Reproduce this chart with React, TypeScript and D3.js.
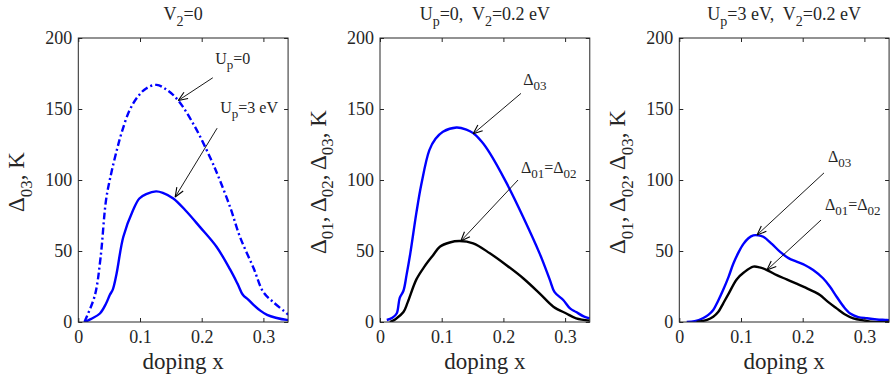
import React, { useEffect, useRef } from 'react';
import * as d3 from 'd3';

// ---- data ----
const xTicks = [0, 0.1, 0.2, 0.3];
const yTicks = [0, 50, 100, 150, 200];

// panel 1: V2 = 0
const p1UpZeroX = [0.01, 0.014, 0.027, 0.036, 0.045, 0.0535, 0.063, 0.07, 0.083, 0.097, 0.11, 0.127, 0.145, 0.162, 0.189, 0.2156, 0.226, 0.246, 0.262, 0.284, 0.3, 0.316, 0.338, 0.34];
const p1UpZeroY = [0, 4, 19, 45, 86, 105, 122, 133, 149, 159, 164.5, 167, 163, 156, 137.5, 114, 103.5, 81, 60, 38, 21, 14, 6, 5];
const p1Up3X = [0.011, 0.02, 0.035, 0.045, 0.051, 0.056, 0.062, 0.073, 0.089, 0.099, 0.11, 0.126, 0.137, 0.154, 0.175, 0.197, 0.224, 0.246, 0.258, 0.267, 0.275, 0.284, 0.295, 0.306, 0.32, 0.338, 0.34];
const p1Up3Y = [0, 2, 6, 13, 19, 23, 34, 60, 79, 87, 90, 92, 91, 87, 78, 67, 53, 37, 27, 19, 16, 12, 8, 5, 3, 1.5, 1.5];

// panel 2: Up = 0, V2 = 0.2 eV
const p2D03X = [0.011, 0.02, 0.027, 0.032, 0.038, 0.043, 0.049, 0.059, 0.067, 0.08, 0.09, 0.102, 0.124, 0.14, 0.151, 0.165, 0.178, 0.205, 0.232, 0.259, 0.275, 0.283, 0.297, 0.308, 0.318, 0.33, 0.34];
const p2D03Y = [1.4, 3, 6, 17, 22, 33, 48, 77, 97, 121, 129, 134, 137, 135.5, 133, 127, 119, 98, 74, 48, 30, 21, 15.5, 9.6, 7, 4, 2.6];
const p2D01X = [0.016, 0.025, 0.038, 0.045, 0.059, 0.072, 0.086, 0.097, 0.113, 0.129, 0.151, 0.178, 0.205, 0.232, 0.259, 0.281, 0.302, 0.318, 0.34];
const p2D01Y = [0, 2, 7, 14, 30, 39, 47, 53, 56, 57, 55.4, 48.4, 40, 30.8, 20, 10.8, 6, 2.6, 1];

// panel 3: Up = 3 eV, V2 = 0.2 eV
const p3D03X = [0.012, 0.025, 0.039, 0.047, 0.055, 0.063, 0.071, 0.08, 0.0875, 0.096, 0.104, 0.112, 0.12, 0.128, 0.136, 0.15, 0.163, 0.177, 0.19, 0.204, 0.217, 0.233, 0.244, 0.255, 0.266, 0.277, 0.29, 0.304, 0.32, 0.336, 0.34];
const p3D03Y = [0, 0.5, 2.8, 5, 8.5, 15, 22.5, 32, 41, 49, 55, 59, 61, 61, 60, 55, 49.5, 45, 42.5, 40, 36.6, 30.8, 25, 17.8, 11, 6, 3.5, 2.6, 1.8, 1.4, 1.2];
const p3D01X = [0.028, 0.045, 0.055, 0.063, 0.071, 0.08, 0.093, 0.105, 0.12, 0.13, 0.142, 0.158, 0.174, 0.19, 0.207, 0.22, 0.228, 0.24, 0.255, 0.268, 0.282, 0.3, 0.315, 0.34];
const p3D01Y = [0, 1.5, 3.7, 7, 13, 20, 30, 35, 39, 38.5, 36.6, 33, 30, 27, 23.7, 21, 19, 14.5, 9.6, 5.5, 2.6, 1, 0, 0];

type Seg = [string, boolean?];

interface Series { xs: number[]; ys: number[]; color: string; dash?: string }
interface Note { text: Seg[]; tx: number; ty: number; x1: number; y1: number; x2: number; y2: number }
interface PanelDef { left: number; title: Seg[]; ylabel: Seg[]; series: Series[]; notes: Note[] }

const delta3Label: Seg[] = [['Δ'], ['03', true], [', K']];
const deltaAllLabel: Seg[] = [['Δ'], ['01', true], [', Δ'], ['02', true], [', Δ'], ['03', true], [', K']];
const d03: Seg[] = [['Δ'], ['03', true]];
const d0102: Seg[] = [['Δ'], ['01', true], ['=Δ'], ['02', true]];

const panels: PanelDef[] = [
  {
    left: 78.3,
    title: [['V'], ['2', true], ['=0']],
    ylabel: delta3Label,
    series: [
      { xs: p1UpZeroX, ys: p1UpZeroY, color: '#0000ff', dash: '7,3,2,3' },
      { xs: p1Up3X, ys: p1Up3Y, color: '#0000ff' },
    ],
    notes: [
      { text: [['U'], ['p', true], ['=0']], tx: 0.222, ty: 182, x1: 0.218, y1: 172, x2: 0.162, y2: 156 },
      { text: [['U'], ['p', true], ['=3 eV']], tx: 0.23, ty: 147, x1: 0.225, y1: 136.5, x2: 0.157, y2: 88 },
    ],
  },
  {
    left: 380,
    title: [['U'], ['p', true], ['=0,  V'], ['2', true], ['=0.2 eV']],
    ylabel: deltaAllLabel,
    series: [
      { xs: p2D03X, ys: p2D03Y, color: '#0000ff' },
      { xs: p2D01X, ys: p2D01Y, color: '#000000' },
    ],
    notes: [
      { text: d03, tx: 0.232, ty: 167, x1: 0.2285, y1: 161, x2: 0.151, y2: 132.5 },
      { text: d0102, tx: 0.2285, ty: 105, x1: 0.2237, y1: 100, x2: 0.131, y2: 57 },
    ],
  },
  {
    left: 679.3,
    title: [['U'], ['p', true], ['=3 eV,  V'], ['2', true], ['=0.2 eV']],
    ylabel: deltaAllLabel,
    series: [
      { xs: p3D03X, ys: p3D03Y, color: '#0000ff' },
      { xs: p3D01X, ys: p3D01Y, color: '#000000' },
    ],
    notes: [
      { text: d03, tx: 0.241, ty: 112.7, x1: 0.2345, y1: 105, x2: 0.126, y2: 61.3 },
      { text: d0102, tx: 0.236, ty: 79, x1: 0.2297, y1: 71.8, x2: 0.142, y2: 36.6 },
    ],
  },
];

const FONT = "'Liberation Serif', 'Times New Roman', serif";
const plotTop = 38;
const plotBottom = 322;
const pxPerUnitX = 617; // pixels per unit of doping

// writes text with subscript pieces as tspans
function richText(sel: any, segs: Seg[], size: number, subSize: number) {
  segs.forEach(([t, sub], i) => {
    const prevSub = i > 0 && segs[i - 1][1];
    let dy = 0;
    if (sub && !prevSub) dy = size * 0.32;
    if (!sub && prevSub) dy = -size * 0.32;
    sel.append('tspan').attr('font-size', sub ? subSize : size).attr('dy', dy).text(t);
  });
}

const App: React.FC = () => {
  const svgRef = useRef<SVGSVGElement | null>(null);

  useEffect(() => {
    if (!svgRef.current) return;
    const svg = d3.select(svgRef.current);
    svg.selectAll('*').remove();

    panels.forEach((p, pi) => {
      const width = 0.34 * pxPerUnitX;
      const x = d3.scaleLinear().domain([0, 0.34]).range([p.left, p.left + width]);
      const y = d3.scaleLinear().domain([0, 200]).range([plotBottom, plotTop]);
      const g = svg.append('g').attr('font-family', FONT);

      const clipId = `clip${pi}`;
      g.append('clipPath')
        .attr('id', clipId)
        .append('rect')
        .attr('x', p.left)
        .attr('y', plotTop)
        .attr('width', width)
        .attr('height', plotBottom - plotTop);

      // curves
      const line = d3
        .line<[number, number]>()
        .x((d) => x(d[0]))
        .y((d) => y(Math.max(0, d[1])))
        .curve(d3.curveCatmullRom.alpha(0.5));

      p.series.forEach((s) => {
        const pts = s.xs.map((v, i) => [v, s.ys[i]] as [number, number]);
        g.append('path')
          .attr('d', line(pts))
          .attr('fill', 'none')
          .attr('stroke', s.color)
          .attr('stroke-width', 2.4)
          .attr('stroke-dasharray', s.dash ?? null)
          .attr('clip-path', `url(#${clipId})`);
      });

      // axes, MATLAB-like inward ticks
      const fmt = (d: d3.NumberValue) => (+d === 0 ? '0' : (+d).toFixed(1));
      const bottom = g
        .append('g')
        .attr('transform', `translate(0,${plotBottom})`)
        .call(d3.axisBottom(x).tickValues(xTicks).tickSize(-4).tickPadding(8).tickFormat(fmt));
      const left = g
        .append('g')
        .attr('transform', `translate(${p.left},0)`)
        .call(d3.axisLeft(y).tickValues(yTicks).tickSize(-4).tickPadding(6));
      const top = g
        .append('g')
        .attr('transform', `translate(0,${plotTop})`)
        .call(d3.axisTop(x).tickValues(xTicks).tickSize(-4).tickFormat(() => ''));
      const right = g
        .append('g')
        .attr('transform', `translate(${p.left + width},0)`)
        .call(d3.axisRight(y).tickValues(yTicks).tickSize(-4).tickFormat(() => ''));
      [bottom, left, top, right].forEach((a) => {
        a.select('.domain').remove();
        a.selectAll('line').attr('stroke', '#262626');
        a.selectAll('text').attr('font-size', 18).attr('font-family', FONT).attr('fill', '#262626');
      });

      g.append('rect')
        .attr('x', p.left)
        .attr('y', plotTop)
        .attr('width', width)
        .attr('height', plotBottom - plotTop)
        .attr('fill', 'none')
        .attr('stroke', '#262626')
        .attr('stroke-width', 1);

      // title
      const title = g
        .append('text')
        .attr('x', p.left + width / 2)
        .attr('y', 20)
        .attr('text-anchor', 'middle')
        .style('white-space', 'pre')
        .attr('fill', '#262626');
      richText(title, p.title, 18, 14);

      // x label
      g.append('text')
        .attr('x', p.left + width / 2)
        .attr('y', 369)
        .attr('text-anchor', 'middle')
        .attr('font-size', 23)
        .attr('fill', '#262626')
        .text('doping x');

      // y label
      const yl = g
        .append('text')
        .attr('transform', `translate(${p.left - 54},${(plotTop + plotBottom) / 2 + 2}) rotate(-90)`)
        .attr('text-anchor', 'middle')
        .style('white-space', 'pre')
        .attr('fill', '#262626');
      richText(yl, p.ylabel, 23, 17);

      // annotations
      p.notes.forEach((n) => {
        const t = g.append('text').attr('x', x(n.tx)).attr('y', y(n.ty)).attr('fill', '#262626');
        richText(t, n.text, 16, 13);
        const x1 = x(n.x1);
        const y1 = y(n.y1);
        const x2 = x(n.x2);
        const y2 = y(n.y2);
        g.append('line')
          .attr('x1', x1)
          .attr('y1', y1)
          .attr('x2', x2)
          .attr('y2', y2)
          .attr('stroke', '#000')
          .attr('stroke-width', 0.9);
        const ang = Math.atan2(y1 - y2, x1 - x2);
        const len = 10;
        [-0.38, 0.38].forEach((da) => {
          g.append('line')
            .attr('x1', x2)
            .attr('y1', y2)
            .attr('x2', x2 + len * Math.cos(ang + da))
            .attr('y2', y2 + len * Math.sin(ang + da))
            .attr('stroke', '#000')
            .attr('stroke-width', 1.1);
        });
      });
    });
  }, []);

  return (
    <svg
      ref={svgRef}
      width={890}
      height={380}
      style={{ position: 'absolute', left: 0, top: 0, background: '#fff' }}
    />
  );
};

export default App;
